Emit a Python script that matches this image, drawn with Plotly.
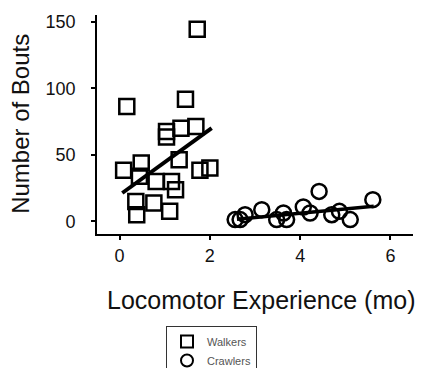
import plotly.graph_objects as go

# Walkers (squares)
walkers_x = [0.09, 0.16, 0.36, 0.38, 0.44, 0.48, 0.76, 0.81, 1.04, 1.04, 1.11, 1.15, 1.24, 1.32, 1.36, 1.46, 1.69, 1.72, 1.78, 2.00]
walkers_y = [38.3, 86.3, 15.0, 5.0, 33.8, 43.8, 13.8, 30.0, 63.3, 67.5, 7.5, 30.0, 23.8, 46.3, 70.0, 91.8, 71.3, 144.3, 38.3, 40.0]

# Crawlers (circles)
crawlers_x = [2.56, 2.67, 2.78, 3.15, 3.48, 3.63, 3.70, 4.07, 4.22, 4.42, 4.70, 4.87, 5.11, 5.61]
crawlers_y = [1.3, 1.3, 5.0, 8.8, 1.3, 6.3, 1.3, 10.8, 6.3, 22.5, 5.0, 7.5, 1.3, 16.3]

# Fit lines (endpoints)
walk_fit_x = [0.06, 2.04]
walk_fit_y = [21.3, 70.0]
crawl_fit_x = [2.6, 5.63]
crawl_fit_y = [1.5, 11.3]

x_ticks = [0, 2, 4, 6]
y_ticks = [0, 50, 100, 150]

x_title = "Locomotor Experience (mo)"
y_title = "Number of Bouts"

FONT = "Liberation Sans, Arial, sans-serif"

# page body adds an 8px offset; compensate
OFF = 8
L, T = 97 - OFF, 15 - OFF
PW, PH = 316, 219.3

fig = go.Figure()
fig.add_trace(go.Scatter(
    x=walk_fit_x, y=walk_fit_y, mode="lines",
    line=dict(color="black", width=4), showlegend=False, hoverinfo="skip"))
fig.add_trace(go.Scatter(
    x=crawl_fit_x, y=crawl_fit_y, mode="lines",
    line=dict(color="black", width=3.5), showlegend=False, hoverinfo="skip"))
fig.add_trace(go.Scatter(
    x=walkers_x, y=walkers_y, mode="markers", name="Walkers",
    marker=dict(symbol="square-open", size=15, color="black",
                line=dict(color="black", width=2.5))))
fig.add_trace(go.Scatter(
    x=crawlers_x, y=crawlers_y, mode="markers", name="Crawlers",
    marker=dict(symbol="circle-open", size=15, color="black",
                line=dict(color="black", width=2.5))))

fig.update_layout(
    width=430, height=368,
    margin=dict(l=L, r=430 - L - PW, t=T, b=368 - T - PH, autoexpand=False),
    paper_bgcolor="white", plot_bgcolor="white",
    font=dict(family=FONT, color="#111"),
    xaxis=dict(
        range=[-0.5, 6.5], tickvals=x_ticks, ticks="outside", ticklen=4,
        tickwidth=1.5, tickcolor="black", showline=True, linecolor="black",
        linewidth=1.8, showgrid=False, zeroline=False,
        tickfont=dict(size=18, family=FONT, color="#111"),
        automargin=False),
    yaxis=dict(
        range=[-9.5, 155], tickvals=y_ticks, ticks="outside", ticklen=4,
        tickwidth=1.5, tickcolor="black", showline=True, linecolor="black",
        linewidth=1.8, showgrid=False, zeroline=False,
        tickfont=dict(size=18, family=FONT, color="#111"),
        ticklabelposition="outside", ticklabelstandoff=12,
        automargin=False),
    legend=dict(
        xref="container", yref="container", x=(166 - OFF) / 430,
        y=1 - (326 - OFF) / 368,
        xanchor="left", yanchor="top", orientation="v",
        bordercolor="#333", borderwidth=1, bgcolor="white",
        font=dict(size=11, family=FONT, color="#555"),
        itemsizing="constant", tracegroupgap=0, itemwidth=30,
        entrywidth=90, entrywidthmode="pixels"),
    showlegend=True,
    annotations=[
        dict(text=x_title, xref="paper", yref="paper",
             x=(261 - 97) / PW, y=(234.3 - 300) / PH,
             xanchor="center", yanchor="middle", showarrow=False,
             font=dict(size=25, family=FONT, color="#111")),
        dict(text=y_title, xref="paper", yref="paper",
             x=(21 - 97) / PW, y=(234.3 - 124) / PH, textangle=-90,
             xanchor="center", yanchor="middle", showarrow=False,
             font=dict(size=24, family=FONT, color="#111")),
    ],
)

fig.write_html("out.html")
